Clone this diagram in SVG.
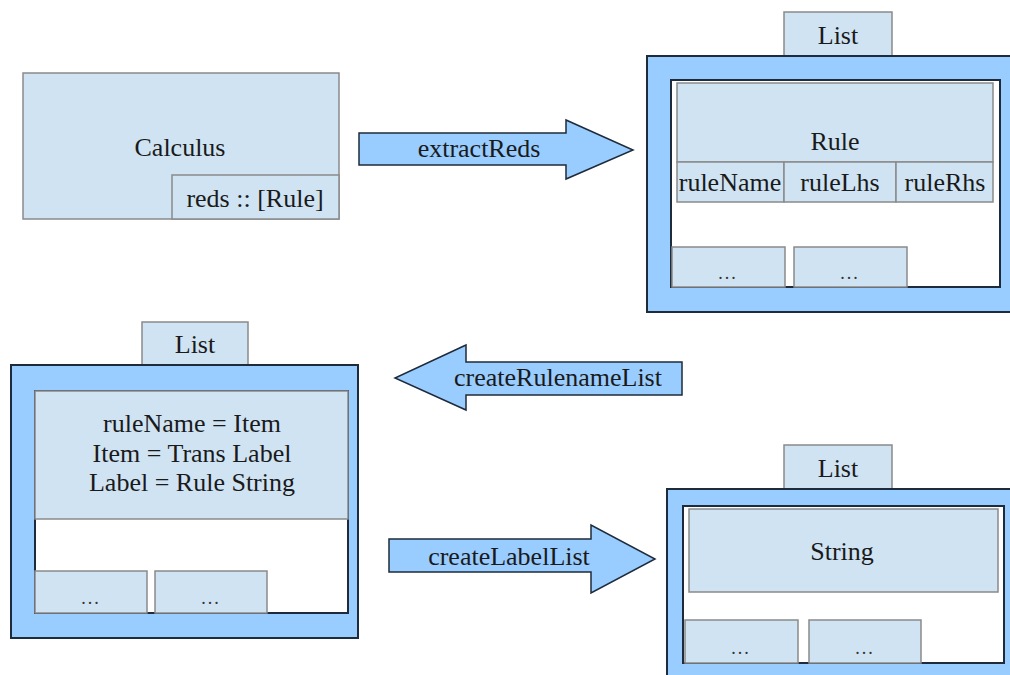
<svg xmlns="http://www.w3.org/2000/svg" width="1010" height="675" viewBox="0 0 1010 675">
<style>
.bg{fill:#ffffff}
.cell{fill:#cfe3f3;stroke:#8a8a8a;stroke-width:1.5}
.outer{fill:#99ccff;stroke:#1e2b3a;stroke-width:2}
.inner{fill:#ffffff;stroke:#1e2b3a;stroke-width:2}
.arrow{fill:#99ccff;stroke:#1e2b3a;stroke-width:1.5}
.t{font-size:26px;fill:#1a1a1a;text-anchor:middle}
.dots{font-size:18px;fill:#333333;text-anchor:middle;letter-spacing:2px}
</style>
<rect class="bg" x="0" y="0" width="1010" height="675"/>

<g id="calculus">
  <rect class="cell" x="23" y="73" width="316" height="146"/>
  <text class="t" font-family="Liberation Serif" x="180" y="156">Calculus</text>
  <rect class="cell" x="172" y="175" width="167" height="44"/>
  <text class="t" font-family="Liberation Serif" x="255" y="207">reds :: [Rule]</text>
</g>

<g id="list-rules">
  <rect class="cell" x="784" y="12" width="108" height="44"/>
  <text class="t" font-family="Liberation Serif" x="838" y="44">List</text>
  <rect class="outer" x="647" y="56" width="370" height="256"/>
  <rect class="inner" x="671" y="80" width="329" height="207"/>
  <rect class="cell" x="677" y="83" width="316" height="79"/>
  <text class="t" font-family="Liberation Serif" x="835" y="150">Rule</text>
  <rect class="cell" x="677" y="162" width="107" height="40"/>
  <rect class="cell" x="784" y="162" width="112" height="40"/>
  <rect class="cell" x="896" y="162" width="97" height="40"/>
  <text class="t" font-family="Liberation Serif" x="730" y="191">ruleName</text>
  <text class="t" font-family="Liberation Serif" x="840" y="191">ruleLhs</text>
  <text class="t" font-family="Liberation Serif" x="945" y="191">ruleRhs</text>
  <rect class="cell" x="672" y="247" width="113" height="40"/>
  <rect class="cell" x="794" y="247" width="113" height="40"/>
  <text class="dots" font-family="Liberation Serif" x="728" y="279">...</text>
  <text class="dots" font-family="Liberation Serif" x="850" y="279">...</text>
</g>

<g id="list-items">
  <rect class="cell" x="142" y="322" width="106" height="43"/>
  <text class="t" font-family="Liberation Serif" x="195" y="353">List</text>
  <rect class="outer" x="11" y="365" width="347" height="273"/>
  <rect class="inner" x="35" y="391" width="313" height="222"/>
  <rect class="cell" x="35" y="391" width="313" height="128"/>
  <text class="t" font-family="Liberation Serif" x="192" y="432">ruleName = Item</text>
  <text class="t" font-family="Liberation Serif" x="192" y="462">Item = Trans Label</text>
  <text class="t" font-family="Liberation Serif" x="192" y="491">Label = Rule String</text>
  <rect class="cell" x="35" y="571" width="112" height="42"/>
  <rect class="cell" x="155" y="571" width="112" height="42"/>
  <text class="dots" font-family="Liberation Serif" x="91" y="604">...</text>
  <text class="dots" font-family="Liberation Serif" x="211" y="604">...</text>
</g>

<g id="list-strings">
  <rect class="cell" x="784" y="445" width="108" height="44"/>
  <text class="t" font-family="Liberation Serif" x="838" y="477">List</text>
  <rect class="outer" x="667" y="489" width="360" height="200"/>
  <rect class="inner" x="683" y="506" width="321" height="157"/>
  <rect class="cell" x="689" y="509" width="309" height="83"/>
  <text class="t" font-family="Liberation Serif" x="842" y="560">String</text>
  <rect class="cell" x="685" y="620" width="113" height="43"/>
  <rect class="cell" x="809" y="620" width="112" height="43"/>
  <text class="dots" font-family="Liberation Serif" x="741" y="654">...</text>
  <text class="dots" font-family="Liberation Serif" x="865" y="654">...</text>
</g>

<g id="connectors">
  <g id="extractReds">
    <polygon class="arrow" points="359,133 566,133 566,120 633,150 566,179 566,165 359,165"/>
    <text class="t" font-family="Liberation Serif" x="479" y="157">extractReds</text>
  </g>
  <g id="createRulenameList">
    <polygon class="arrow" points="682,362 466,362 466,345 395,378 466,410 466,395 682,395"/>
    <text class="t" font-family="Liberation Serif" x="558" y="386">createRulenameList</text>
  </g>
  <g id="createLabelList">
    <polygon class="arrow" points="389,539 591,539 591,525 655,559 591,593 591,572 389,572"/>
    <text class="t" font-family="Liberation Serif" x="509" y="565">createLabelList</text>
  </g>
</g>
</svg>
